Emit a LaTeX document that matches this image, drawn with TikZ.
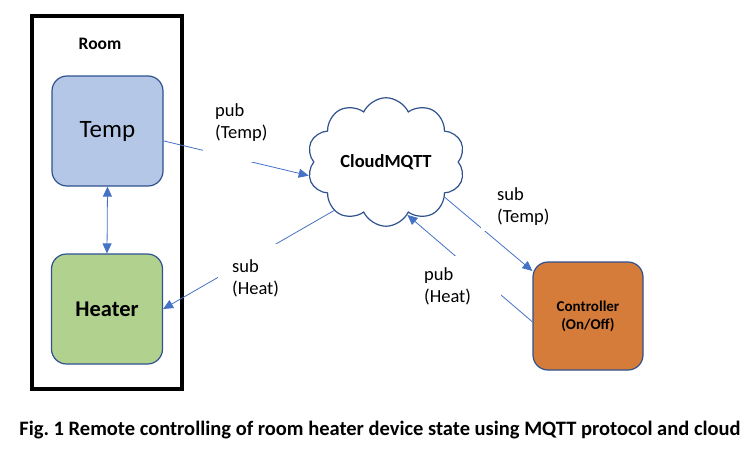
\documentclass[tikz,border=0pt]{standalone}
\usepackage{fontspec}
\setmainfont{Carlito}
\usetikzlibrary{shapes.symbols,arrows.meta}
\definecolor{tempBlau}{HTML}{B4C7E7}
\definecolor{heizGruen}{HTML}{B1D18F}
\definecolor{reglerOrange}{HTML}{D57C3A}
\definecolor{randBlau}{HTML}{2F528F}
\definecolor{linienBlau}{HTML}{4472C4}
\frenchspacing
\tikzset{
	geraet/.style={rectangle,rounded corners=15pt,draw=randBlau,line width=1.2pt,minimum width=111pt,minimum height=110pt,align=center},
	pfeil/.style={draw=linienBlau,line width=0.8pt,-{Triangle[length=10pt,width=9pt]}},
	doppelpfeil/.style={draw=linienBlau,line width=0.8pt,{Triangle[length=10pt,width=9pt]}-{Triangle[length=10pt,width=9pt]}},
	beschriftung/.style={fill=white,align=left,anchor=north west,font=\fontsize{18.5}{22}\selectfont}
}
\begin{document}
\begin{tikzpicture}[x=1pt,y=-1pt]
	\useasboundingbox (0,0) rectangle (755,450);
	% Raum
	\node[rectangle,draw,line width=4pt,minimum width=150pt,minimum height=373pt] (raum) at (107,202.5) {};
	\node[font=\bfseries\fontsize{17.5}{20}\selectfont] (raumText) at (100,44) {Room};
	%
	\node[geraet,fill=tempBlau,font=\fontsize{25}{28}\selectfont] (temp) at (107.5,131) {Temp};
	\node[geraet,fill=heizGruen,font=\bfseries\fontsize{22.5}{26}\selectfont] (heater) at (107,309) {Heater};
	\node[geraet,fill=reglerOrange,minimum width=110pt,minimum height=108pt,font=\bfseries\fontsize{15}{18}\selectfont] (controller) at (588,316) {Controller\\(On/Off)};
	\node[cloud,draw=randBlau,line width=1.2pt,cloud puffs=10,cloud puff arc=130,aspect=1.3,minimum width=158pt,minimum height=120pt,font=\bfseries\fontsize{18.5}{22}\selectfont] (cloud) at (386,162) {CloudMQTT};
	%
	\draw[doppelpfeil] (temp.south) -- (heater.north);
	\draw[pfeil] (temp.-10) -- (cloud.190);
	\draw[pfeil] (cloud.223) -- (heater.east);
	\draw[pfeil] (cloud.329) -- (controller.141);
	\draw[pfeil] (controller.186) -- (cloud.292);
	%
	\node[beschriftung,inner xsep=12pt,inner ysep=2pt] (pubTemp) at (203,101) {pub\\(Temp)\\\mbox{}};
	\node[beschriftung,inner xsep=14pt,inner ysep=6pt] (subHeat) at (218,244) {\mbox{}\\sub\\(Heat)};
	\node[beschriftung,inner xsep=16pt,inner ysep=6pt] (subTemp) at (481,181) {sub\\(Temp)};
	\node[beschriftung,inner xsep=30pt,inner ysep=11pt] (pubHeat) at (394,256) {pub\\(Heat)};
	%
	\node[font=\bfseries\fontsize{20.5}{24}\selectfont] (titel) at (380,430) {Fig. 1 Remote controlling of room heater device state using MQTT protocol and cloud};
\end{tikzpicture}
\end{document}
